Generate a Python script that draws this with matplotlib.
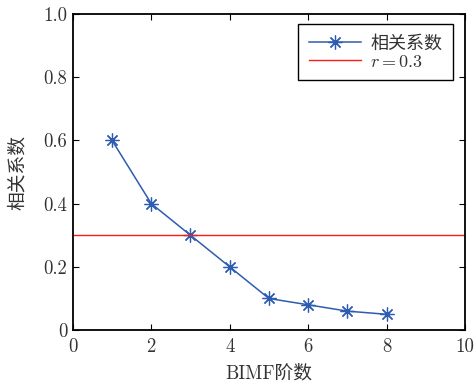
import matplotlib
matplotlib.use("Agg")
import matplotlib.pyplot as plt

plt.rcParams['font.family'] = ['cmr10', 'Noto Sans CJK SC', 'DejaVu Sans']
plt.rcParams['mathtext.fontset'] = 'cm'
plt.rcParams['axes.formatter.use_mathtext'] = True
plt.rcParams['axes.unicode_minus'] = False

order = [1, 2, 3, 4, 5, 6, 7, 8]
corr = [0.6, 0.4, 0.3, 0.2, 0.1, 0.08, 0.06, 0.05]
threshold = 0.3
xticks = [0, 2, 4, 6, 8, 10]
yticks = [0, 0.2, 0.4, 0.6, 0.8, 1.0]
ytick_labels = ["0", "0.2", "0.4", "0.6", "0.8", "1.0"]

fig = plt.figure(figsize=(4.76, 3.87), dpi=100)
ax = fig.add_axes([0.153, 0.147, 0.824, 0.817])

ax.plot(order, corr, color="#2e5cb0", marker=(8, 2, 0), markersize=10,
        markeredgewidth=0.9, lw=1.1, label="相关系数")
ax.axhline(threshold, color="#ff1a1a", lw=1.0, label=r"$r=0.3$")

ax.set_xlim(0, 10)
ax.set_ylim(0, 1.0)
ax.set_xticks(xticks)
ax.set_xticklabels([str(t) for t in xticks])
ax.set_yticks(yticks)
ax.set_yticklabels(ytick_labels)
ax.tick_params(direction="in", length=4, labelsize=13.5, colors="black",
               labelcolor="#333333", top=True, right=True)
ax.tick_params(axis="x", pad=6)
ax.tick_params(axis="y", pad=4)
for s in ax.spines.values():
    s.set_linewidth(1.3)

ax.set_xlabel("BIMF阶数", fontsize=13.5, color="#333333", labelpad=6)
ax.set_ylabel("相关系数", fontsize=13.5, color="#333333", labelpad=12)

leg = ax.legend(loc="upper right", bbox_to_anchor=(0.97, 0.968),
                borderaxespad=0, fontsize=13, fancybox=False, framealpha=1,
                edgecolor="black", handlelength=2.9,
                handletextpad=0.5, borderpad=0.6, labelspacing=0.1,
                labelcolor="#333333")
leg.get_frame().set_linewidth(1.0)

fig.savefig("out.png", dpi=100)
